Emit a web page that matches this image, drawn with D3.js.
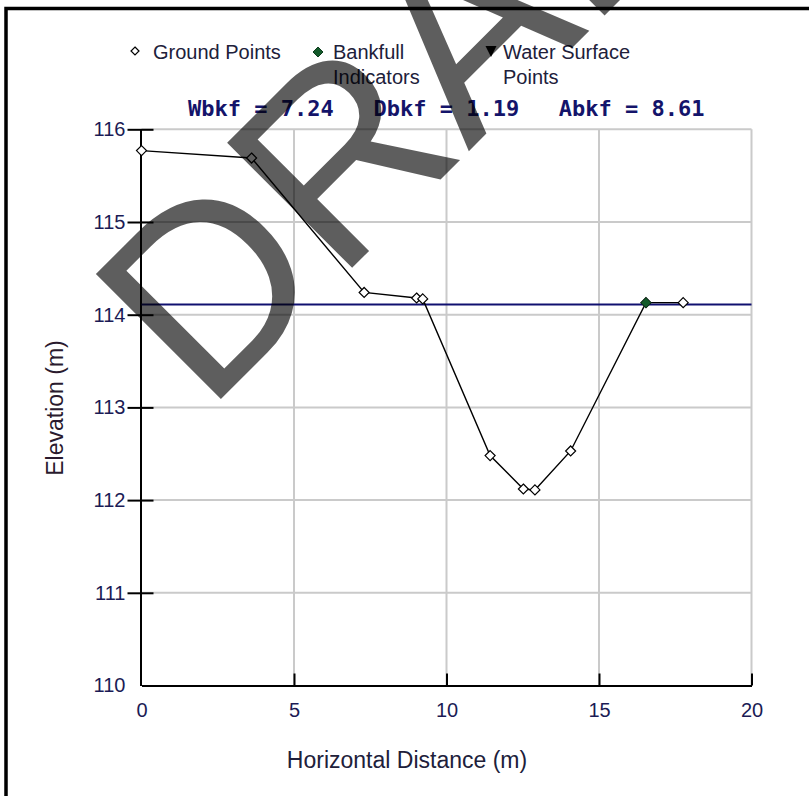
<!DOCTYPE html>
<html>
<head>
<meta charset="utf-8">
<script src="https://cdn.jsdelivr.net/npm/d3@7"></script>
<style>
  html, body { margin: 0; padding: 0; background: #fff; }
  svg { display: block; }
  text { font-family: "Liberation Sans", Arial, sans-serif; }
  text.stats { font-family: "DejaVu Sans Mono", monospace; font-weight: bold; white-space: pre; }
</style>
</head>
<body>
<svg id="chart" width="809" height="796"></svg>
<script>
// Cross-section survey: station (m) and elevation (m) of ground shots
const stations   = [0, 3.61, 7.30, 9.02, 9.22, 11.43, 12.52, 12.90, 14.07, 16.54, 17.76];
const elevations = [115.77, 115.69, 114.24, 114.18, 114.17, 112.48, 112.12, 112.11, 112.53, 114.13, 114.13];

// Bankfull indicator shots
const bankfullStations   = [16.54];
const bankfullElevations = [114.13];

// Bankfull stage and channel statistics
const bankfullStage = 114.11;
const statNames  = ["Wbkf", "Dbkf", "Abkf"];
const statValues = [7.24, 1.19, 8.61];

// Axis ticks
const xTicks = [0, 5, 10, 15, 20];
const yTicks = [110, 111, 112, 113, 114, 115, 116];

// Legend entries
const legendLabels = [["Ground Points"], ["Bankfull", "Indicators"], ["Water Surface", "Points"]];

const svg = d3.select("#chart");

const x = d3.scaleLinear().domain([0, 20]).range([141.5, 751.5]);
const y = d3.scaleLinear().domain([110, 116]).range([685.5, 129.3]);

const inkNavy = "#1b1b55";
const textDark = "#20203a";

// outer frame
svg.append("path")
  .attr("d", "M6,796 L6,8.5 L809,8.5")
  .attr("fill", "none").attr("stroke", "#000").attr("stroke-width", 3.5);

// grid
const grid = svg.append("g").attr("stroke", "#cacaca").attr("stroke-width", 2);
xTicks.filter(d => d > 0).forEach(d => {
  grid.append("line").attr("x1", x(d)).attr("x2", x(d)).attr("y1", y(116)).attr("y2", y(110));
});
yTicks.filter(d => d > 110).forEach(d => {
  grid.append("line").attr("x1", x(0)).attr("x2", x(20)).attr("y1", y(d)).attr("y2", y(d));
});

// axes
const xAxis = d3.axisBottom(x).tickValues(xTicks).tickFormat(d3.format("d")).tickSize(0).tickPadding(17);
const gx = svg.append("g").attr("transform", `translate(0,${y(110)})`).call(xAxis);
gx.select(".domain").attr("stroke", "#000").attr("stroke-width", 2);
gx.selectAll(".tick text").attr("font-size", 20).attr("fill", inkNavy);
// x ticks point up into the plot
const xIn = d3.axisTop(x).tickValues(xTicks.filter(d => d > 0)).tickSize(12).tickFormat("");
const gxi = svg.append("g").attr("transform", `translate(0,${y(110)})`).call(xIn);
gxi.select(".domain").remove();
gxi.selectAll(".tick line").attr("stroke", "#000").attr("stroke-width", 2);

const yAxis = d3.axisLeft(y).tickValues(yTicks).tickFormat(d3.format("d"))
  .tickSizeInner(0).tickSizeOuter(0).tickPadding(15);
const gy = svg.append("g").attr("transform", `translate(${x(0) - 1},0)`).call(yAxis);
gy.select(".domain").attr("stroke", "#000").attr("stroke-width", 2);
gy.selectAll(".tick text").attr("font-size", 20).attr("fill", inkNavy);
// y ticks cross the axis line
gy.selectAll(".tick").filter(d => d > 110).append("line")
  .attr("x1", -13).attr("x2", 13).attr("stroke", "#000").attr("stroke-width", 2);

// bankfull stage line
svg.append("line")
  .attr("x1", x(0)).attr("x2", x(20))
  .attr("y1", y(bankfullStage)).attr("y2", y(bankfullStage))
  .attr("stroke", "#101070").attr("stroke-width", 2);

// ground profile
const pts = stations.map((s, i) => [s, elevations[i]]);
svg.append("path")
  .datum(pts)
  .attr("d", d3.line().x(d => x(d[0])).y(d => y(d[1])))
  .attr("fill", "none").attr("stroke", "#000").attr("stroke-width", 1.4);

const diamond = r => `M0,${-r} L${r},0 L0,${r} L${-r},0 Z`;

svg.append("g").selectAll("path").data(pts).join("path")
  .attr("transform", d => `translate(${x(d[0])},${y(d[1])})`)
  .attr("d", diamond(5))
  .attr("fill", "#fff").attr("stroke", "#000").attr("stroke-width", 1.2);

svg.append("g").selectAll("path").data(bankfullStations.map((s, i) => [s, bankfullElevations[i]])).join("path")
  .attr("transform", d => `translate(${x(d[0])},${y(d[1])})`)
  .attr("d", diamond(5))
  .attr("fill", "#135a2a").attr("stroke", "#0d3d1d").attr("stroke-width", 1);

// legend
const legendX = [153, 333, 503];
const legend = svg.append("g");
legendLabels.forEach((lines, i) => {
  lines.forEach((t, j) => {
    legend.append("text").attr("x", legendX[i]).attr("y", 59 + j * 25)
      .attr("font-size", 20).attr("fill", textDark).text(t);
  });
});
legend.append("path").attr("transform", "translate(135,51)").attr("d", diamond(4))
  .attr("fill", "#fff").attr("stroke", "#000").attr("stroke-width", 1.2);
legend.append("path").attr("transform", "translate(318,52)").attr("d", diamond(5))
  .attr("fill", "#135a2a").attr("stroke", "#0d3d1d").attr("stroke-width", 1);
legend.append("path").attr("transform", "translate(491,51)").attr("d", "M-5.5,-5 L5.5,-5 L0,6 Z")
  .attr("fill", "#000");

// channel statistics
svg.append("text")
  .attr("class", "stats")
  .attr("x", 188).attr("y", 116)
  .attr("xml:space", "preserve")
  .attr("font-size", 22)
  .attr("fill", "#14146a")
  .text(statNames.map((n, i) => `${n} = ${statValues[i].toFixed(2)}`).join("   "));

// axis titles
svg.append("text")
  .attr("x", 407).attr("y", 768).attr("text-anchor", "middle")
  .attr("font-size", 23).attr("fill", textDark).text("Horizontal Distance (m)");
svg.append("text")
  .attr("transform", "translate(63,408) rotate(-90)").attr("text-anchor", "middle")
  .attr("font-size", 23).attr("fill", "#2a1a2e").text("Elevation (m)");

// watermark
svg.append("text")
  .attr("transform", "translate(206,414) rotate(-45)")
  .attr("font-size", 257)
  .attr("fill", "#000").attr("fill-opacity", 0.63)
  .text("DRAFT");
</script>
</body>
</html>
